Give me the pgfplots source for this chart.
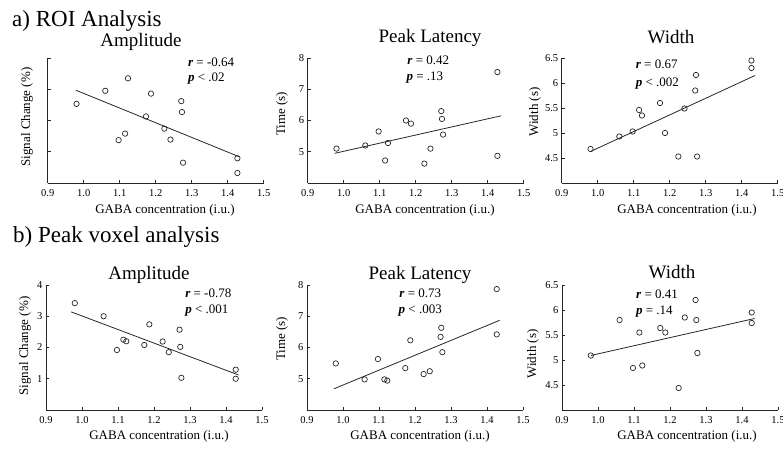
\documentclass[border=0pt]{standalone}
\usepackage{fontspec}
\setmainfont{Liberation Serif}
\usepackage{pgfplots}
\usepackage{pgfplotstable}
\pgfplotsset{compat=1.18}

% GABA concentration per subject, response measure
\pgfplotstableread{
x y
0.980 2.53
1.060 2.95
1.097 1.37
1.115 1.58
1.123 3.35
1.173 2.13
1.187 2.86
1.224 1.74
1.241 1.39
1.271 2.62
1.273 2.27
1.276 0.65
1.427 0.79
1.427 0.32
}\roiamp
\pgfplotstableread{
x y
0.980 5.10
1.060 5.20
1.097 5.65
1.115 4.72
1.123 5.28
1.173 6.00
1.187 5.90
1.224 4.62
1.241 5.10
1.271 6.30
1.273 6.05
1.276 5.55
1.427 7.55
1.427 4.87
}\roilat
\pgfplotstableread{
x y
0.980 4.68
1.060 4.93
1.097 5.03
1.115 5.46
1.123 5.35
1.173 5.60
1.187 5.00
1.224 4.53
1.241 5.49
1.271 5.85
1.273 6.16
1.276 4.53
1.427 6.45
1.427 6.30
}\roiwid
\pgfplotstableread{
x y
0.980 3.42
1.060 3.00
1.097 1.92
1.115 2.25
1.123 2.20
1.173 2.08
1.187 2.74
1.224 2.19
1.241 1.85
1.271 2.57
1.273 2.02
1.276 1.03
1.427 1.29
1.427 1.00
}\pkamp
\pgfplotstableread{
x y
0.980 5.49
1.060 4.98
1.097 5.63
1.115 4.98
1.123 4.94
1.173 5.34
1.187 6.23
1.224 5.15
1.241 5.24
1.271 6.34
1.273 6.63
1.276 5.85
1.427 7.87
1.427 6.42
}\pklat
\pgfplotstableread{
x y
0.980 5.09
1.060 5.80
1.097 4.84
1.115 5.55
1.123 4.89
1.173 5.64
1.187 5.55
1.224 4.44
1.241 5.85
1.271 6.20
1.273 5.80
1.276 5.14
1.427 5.95
1.427 5.74
}\pkwid

\pgfplotsset{
  gaba/.style={
    scale only axis, width=216pt, height=125pt,
    anchor=south west,
    xmin=0.9, xmax=1.5,
    xtick={0.9,1.0,1.1,1.2,1.3,1.4,1.5},
    xticklabel style={yshift=-3pt, /pgf/number format/.cd, fixed, fixed zerofill, precision=1},
    axis x line*=bottom, axis y line*=left,
    axis line style={black!85, line width=0.8pt},
    tick align=inside, major tick length=3pt,
    tick style={black!85, line width=0.6pt},
    tick label style={font=\fontsize{10.5}{11}\selectfont},
    /pgf/number format/assume math mode=true,
    clip=false,
  },
  dots/.style={only marks, mark=o, mark size=2.7pt,
    mark options={black!85, line width=0.7pt}},
  fitline/.style={no marks, black!85, line width=0.8pt},
}
\tikzset{stat/.style={anchor=base west, font=\fontsize{13}{14}\selectfont}}

\begin{document}
\begin{tikzpicture}
\path[use as bounding box] (0pt,0pt) rectangle (783pt,-449pt);

% ---------- a) ROI analysis ----------
\begin{axis}[gaba, at={(47.7pt,-183pt)}, ymin=0, ymax=4, ytick={1,2,3,4}, yticklabels={}]
  \addplot[dots] table {\roiamp};
  \addplot[fitline] coordinates {(0.978,2.97) (1.432,0.84)};
  \node[stat] at (axis cs:1.28,3.74) {\textbf{\textit{r}} = -0.64};
  \node[stat] at (axis cs:1.28,3.26) {\textbf{\textit{p}} < .02};
\end{axis}

\begin{axis}[gaba, at={(307.7pt,-183pt)}, ymin=4, ymax=8, ytick={5,6,7,8}]
  \addplot[dots] table {\roilat};
  \addplot[fitline] coordinates {(0.975,4.95) (1.437,6.15)};
  \node[stat] at (axis cs:1.167,7.79) {\textbf{\textit{r}} = 0.42};
  \node[stat] at (axis cs:1.165,7.28) {\textbf{\textit{p}} = .13};
\end{axis}

\begin{axis}[gaba, at={(561.7pt,-183pt)}, ymin=4, ymax=6.5, ytick={4.5,5,5.5,6,6.5}]
  \addplot[dots] table {\roiwid};
  \addplot[fitline] coordinates {(0.98,4.63) (1.437,6.15)};
  \node[stat] at (axis cs:1.096,6.28) {\textbf{\textit{r}} = 0.67};
  \node[stat] at (axis cs:1.096,5.93) {\textbf{\textit{p}} < .002};
\end{axis}

% ---------- b) Peak voxel analysis ----------
\begin{axis}[gaba, at={(46pt,-410pt)}, ymin=0, ymax=4, ytick={1,2,3,4}]
  \addplot[dots] table {\pkamp};
  \addplot[fitline] coordinates {(0.97,3.14) (1.435,1.12)};
  \node[stat] at (axis cs:1.277,3.61) {\textbf{\textit{r}} = -0.78};
  \node[stat] at (axis cs:1.277,3.08) {\textbf{\textit{p}} < .001};
\end{axis}

\begin{axis}[gaba, at={(307pt,-410pt)}, ymin=4, ymax=8, ytick={5,6,7,8}]
  \addplot[dots] table {\pklat};
  \addplot[fitline] coordinates {(0.975,4.68) (1.435,6.87)};
  \node[stat] at (axis cs:1.147,7.6) {\textbf{\textit{r}} = 0.73};
  \node[stat] at (axis cs:1.145,7.09) {\textbf{\textit{p}} < .003};
\end{axis}

\begin{axis}[gaba, at={(562pt,-410pt)}, ymin=4, ymax=6.5, ytick={4.5,5,5.5,6,6.5}]
  \addplot[dots] table {\pkwid};
  \addplot[fitline] coordinates {(0.98,5.09) (1.435,5.83)};
  \node[stat] at (axis cs:1.096,6.24) {\textbf{\textit{r}} = 0.41};
  \node[stat] at (axis cs:1.096,5.91) {\textbf{\textit{p}} = .14};
\end{axis}

% ---------- headings, titles, axis labels ----------
\begin{scope}[font=\fontsize{23}{25}\selectfont]
  \node[anchor=base west, inner sep=0] at (12pt,-27pt) {a) ROI Analysis};
  \node[anchor=base west, inner sep=0] at (13pt,-242pt) {b) Peak voxel analysis};
\end{scope}
\begin{scope}[font=\fontsize{19}{21}\selectfont]
  \node[anchor=base, inner sep=0] at (141pt,-47pt) {Amplitude};
  \node[anchor=base, inner sep=0] at (430pt,-43pt) {Peak Latency};
  \node[anchor=base, inner sep=0] at (671pt,-44pt) {Width};
  \node[anchor=base, inner sep=0] at (149pt,-279pt) {Amplitude};
  \node[anchor=base, inner sep=0] at (420pt,-279pt) {Peak Latency};
  \node[anchor=base, inner sep=0] at (672pt,-278pt) {Width};
\end{scope}
\begin{scope}[font=\fontsize{13}{14}\selectfont]
  \node[anchor=base, inner sep=0] at (165pt,-213pt) {GABA concentration (i.u.)};
  \node[anchor=base, inner sep=0] at (425pt,-213pt) {GABA concentration (i.u.)};
  \node[anchor=base, inner sep=0] at (687pt,-213pt) {GABA concentration (i.u.)};
  \node[anchor=base, inner sep=0] at (159pt,-439pt) {GABA concentration (i.u.)};
  \node[anchor=base, inner sep=0] at (420pt,-439pt) {GABA concentration (i.u.)};
  \node[anchor=base, inner sep=0] at (687pt,-439pt) {GABA concentration (i.u.)};
  \node[rotate=90, inner sep=0] at (27pt,-117pt) {Signal Change (\%)};
  \node[rotate=90, inner sep=0] at (282pt,-114pt) {Time (s)};
  \node[rotate=90, inner sep=0] at (535pt,-112pt) {Width (s)};
  \node[rotate=90, inner sep=0] at (25pt,-346pt) {Signal Change (\%)};
  \node[rotate=90, inner sep=0] at (282pt,-339pt) {Time (s)};
  \node[rotate=90, inner sep=0] at (533pt,-354pt) {Width (s)};
\end{scope}
\end{tikzpicture}
\end{document}
